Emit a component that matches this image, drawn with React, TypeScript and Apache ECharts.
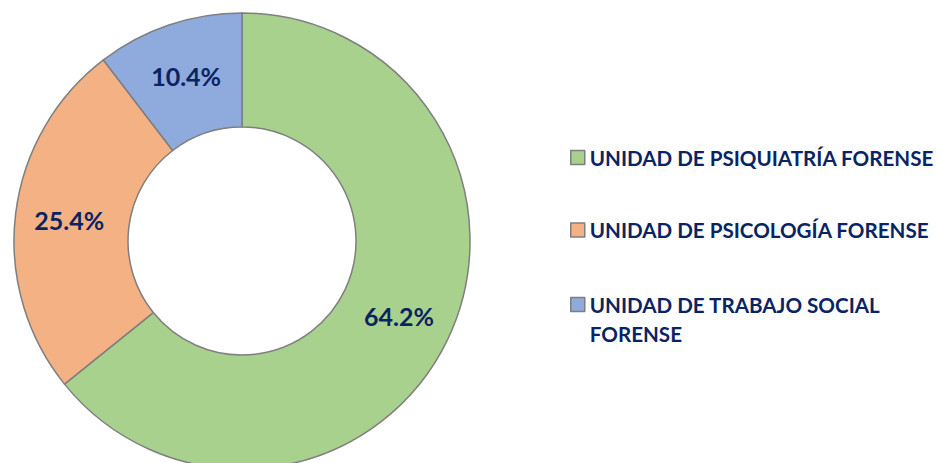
import React, { useEffect, useRef } from "react";
import * as echarts from "echarts";

const categories = [
  "UNIDAD DE PSIQUIATRÍA FORENSE",
  "UNIDAD DE PSICOLOGÍA FORENSE",
  "UNIDAD DE TRABAJO SOCIAL FORENSE",
];
const values = [64.2, 25.4, 10.4];
const colors = ["#A9D18E", "#F4B183", "#8FAADC"];

const NAVY = "#0A2463";
const FONT = "Lato";

export default function App() {
  const ref = useRef<HTMLDivElement>(null);
  useEffect(() => {
    if (!ref.current) return;
    const chart = echarts.init(ref.current, null, { renderer: "svg" });
    const legendText = {
      color: NAVY,
      fontFamily: FONT,
      fontWeight: "bold" as const,
      fontSize: 20.6,
      lineHeight: 29,
    };
    const mkLegend = (i: number, top: number, formatter?: any) => ({
      data: [categories[i]],
      orient: "vertical" as const,
      left: 570,
      top,
      padding: 0,
      itemWidth: 14,
      itemHeight: 14,
      itemGap: 0,
      icon: "rect",
      selectedMode: false,
      itemStyle: { borderColor: "#7F7F7F", borderWidth: 1.5 },
      textStyle: {
        ...legendText,
        rich: { a: { ...legendText } },
      },
      formatter,
    });
    chart.setOption({
      animation: false,
      color: colors,
      legend: [
        mkLegend(0, 143),
        mkLegend(1, 215.5),
        mkLegend(2, 261, () => "{a| }\n{a|UNIDAD DE TRABAJO SOCIAL}\n{a|FORENSE}"),
      ],
      series: [
        {
          type: "pie",
          center: [242, 241],
          radius: [114, 228],
          startAngle: 90,
          clockwise: true,
          silent: true,
          itemStyle: { borderColor: "#7F7F7F", borderWidth: 1.5 },
          label: {
            show: true,
            position: "inside",
            formatter: (p: any) => p.value.toFixed(1) + "%",
            color: NAVY,
            fontFamily: FONT,
            fontWeight: "bold",
            fontSize: 25,
          },
          labelLine: { show: false },
          data: categories.map((c, i) => ({ name: c, value: values[i] })),
        },
      ],
    });
    return () => chart.dispose();
  }, []);
  return (
    <div
      ref={ref}
      style={{ position: "absolute", left: 0, top: 0, width: 942, height: 463, background: "#fff" }}
    />
  );
}
